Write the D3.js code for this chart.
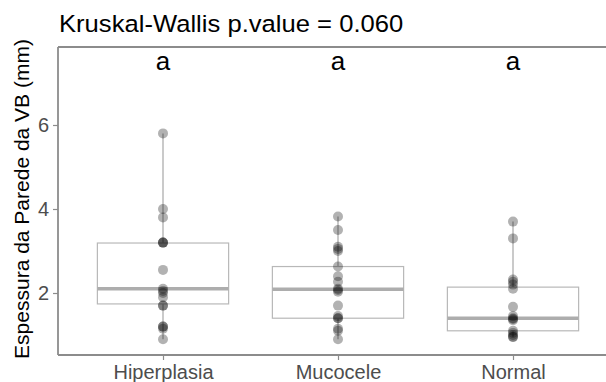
<!DOCTYPE html>
<html>
<head>
<meta charset="utf-8">
<script src="https://cdn.jsdelivr.net/npm/d3@7"></script>
<style>
  body { margin: 0; background: #fff; }
  svg { display: block; font-family: "Liberation Sans", Arial, sans-serif; }
</style>
</head>
<body>
<svg id="chart" width="606" height="382"></svg>
<script>
// categories and letters
var categories = ['Hiperplasia', 'Mucocele', 'Normal'];
var letters = ['a', 'a', 'a'];
var yTicks = [2, 4, 6];

var hiperplasia = [5.8, 4.0, 3.8, 3.2, 3.2, 3.2, 2.55, 2.1, 2.05, 2.0, 1.9, 1.7, 1.7, 1.2, 1.2, 1.15, 0.9];
var mucocele = [3.82, 3.5, 3.1, 3.05, 3.0, 2.63, 2.4, 2.27, 2.1, 2.07, 2.03, 1.7, 1.45, 1.4, 1.4, 1.15, 1.1, 0.9];
var normal = [3.7, 3.3, 2.32, 2.27, 2.2, 2.1, 1.67, 1.45, 1.4, 1.38, 1.35, 1.1, 1.05, 1.0, 0.96, 0.95];

// box statistics (lower whisker, q1, median, q3, upper whisker)
var whiskerLow = [0.9, 0.9, 0.95];
var q1 = [1.74, 1.40, 1.10];
var median = [2.1, 2.09, 1.40];
var q3 = [3.19, 2.63, 2.14];
var whiskerHigh = [5.8, 3.82, 3.7];

var series = [hiperplasia, mucocele, normal];
var letterY = 7.3;

var svg = d3.select('#chart');

var panel = {left: 58, right: 618, top: 47, bottom: 355};

var x = d3.scalePoint()
    .domain(categories)
    .range([panel.left, panel.right])
    .padding(0.6);

var y = d3.scaleLinear()
    .domain([0.524, 7.857])
    .range([panel.bottom, panel.top]);

var boxW = x.step() * 0.75;
var grey = '#b8b8b8';

// title (the source picture is a little stretched sideways)
svg.append('text')
    .attr('transform', 'translate(59,32) scale(1.09,1)')
    .attr('font-size', 23.5)
    .attr('fill', '#000')
    .text('Kruskal-Wallis p.value = 0.060');

// y axis title
svg.append('text')
    .attr('transform', 'translate(29,' + ((panel.top + panel.bottom) / 2 - 2) + ') rotate(-90)')
    .attr('text-anchor', 'middle')
    .attr('font-size', 21)
    .attr('fill', '#000')
    .text('Espessura da Parede da VB (mm)');

var plot = svg.append('g');

// boxes
var groups = plot.selectAll('g.box')
    .data(categories)
    .enter().append('g')
    .attr('class', 'box');

groups.append('line')
    .attr('x1', d => x(d)).attr('x2', d => x(d))
    .attr('y1', (d, i) => y(q3[i])).attr('y2', (d, i) => y(whiskerHigh[i]))
    .attr('stroke', grey).attr('stroke-width', 1.5);

groups.append('line')
    .attr('x1', d => x(d)).attr('x2', d => x(d))
    .attr('y1', (d, i) => y(q1[i])).attr('y2', (d, i) => y(whiskerLow[i]))
    .attr('stroke', grey).attr('stroke-width', 1.5);

groups.append('rect')
    .attr('x', d => x(d) - boxW / 2)
    .attr('width', boxW)
    .attr('y', (d, i) => y(q3[i]))
    .attr('height', (d, i) => y(q1[i]) - y(q3[i]))
    .attr('fill', '#fff')
    .attr('stroke', grey)
    .attr('stroke-width', 1.2);

groups.append('line')
    .attr('x1', d => x(d) - boxW / 2).attr('x2', d => x(d) + boxW / 2)
    .attr('y1', (d, i) => y(median[i])).attr('y2', (d, i) => y(median[i]))
    .attr('stroke', '#adadad').attr('stroke-width', 3.5);

// points
var pts = [];
series.forEach(function (vals, i) {
    vals.forEach(function (v) { pts.push({cat: categories[i], v: v}); });
});

plot.selectAll('circle.pt')
    .data(pts)
    .enter().append('circle')
    .attr('class', 'pt')
    .attr('cx', d => x(d.cat))
    .attr('cy', d => y(d.v))
    .attr('r', 5)
    .attr('fill', '#000')
    .attr('fill-opacity', 0.3);

// letters
svg.selectAll('text.letter')
    .data(categories)
    .enter().append('text')
    .attr('class', 'letter')
    .attr('x', d => x(d))
    .attr('y', y(letterY))
    .attr('text-anchor', 'middle')
    .attr('font-size', 26)
    .attr('fill', '#000')
    .text((d, i) => letters[i]);

// panel frame (top, left, bottom)
var frame = '#8c8c8c';
svg.append('line')
    .attr('x1', panel.left).attr('x2', panel.right)
    .attr('y1', panel.top).attr('y2', panel.top)
    .attr('stroke', frame).attr('stroke-width', 1.8);

// axes
var yAxis = svg.append('g')
    .attr('transform', 'translate(' + panel.left + ',0)')
    .call(d3.axisLeft(y).tickValues(yTicks).tickSize(5).tickPadding(4));

var xAxis = svg.append('g')
    .attr('transform', 'translate(0,' + panel.bottom + ')')
    .call(d3.axisBottom(x).tickSize(5).tickPadding(5));

[yAxis, xAxis].forEach(function (ax) {
    ax.select('.domain').attr('stroke', frame).attr('stroke-width', 1.8);
    ax.selectAll('.tick line').attr('stroke', frame).attr('stroke-width', 1.2);
    ax.selectAll('.tick text')
        .attr('fill', '#4d4d4d')
        .attr('font-size', 20)
        .attr('font-family', '"Liberation Sans", Arial, sans-serif');
});
yAxis.select('.domain').attr('d', 'M0,' + panel.top + 'V' + panel.bottom);
xAxis.select('.domain').attr('d', 'M' + panel.left + ',0H' + panel.right);
</script>
</body>
</html>
